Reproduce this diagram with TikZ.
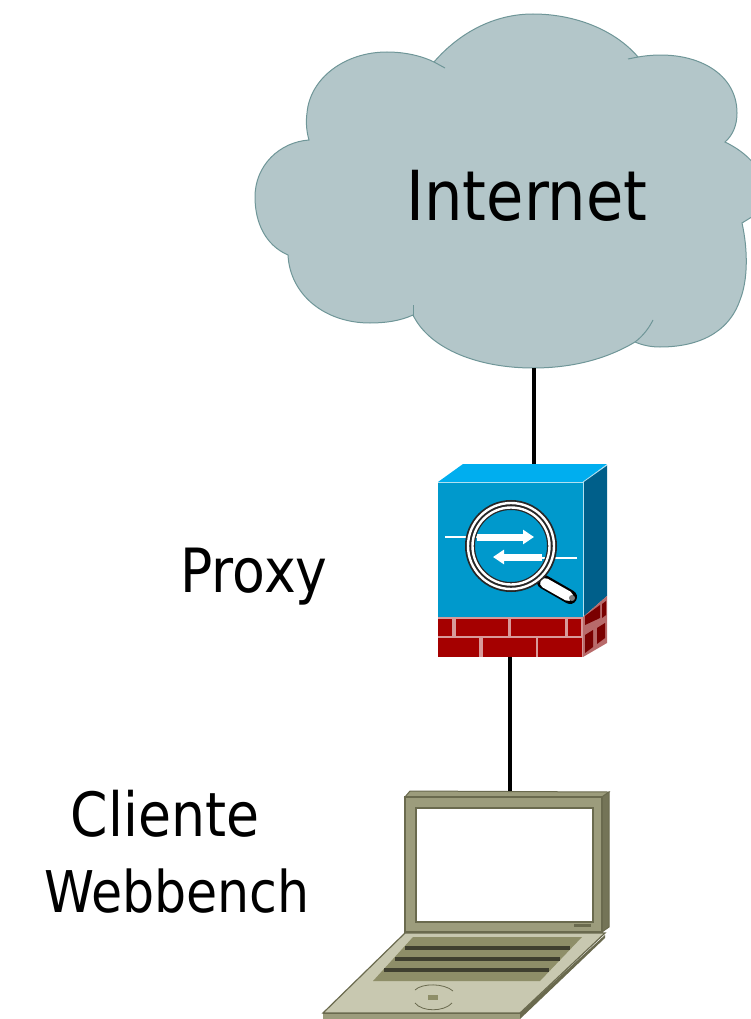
\documentclass[tikz,border=0pt]{standalone}
\usepackage{fontspec}
\setmainfont{DejaVu Sans}[FakeStretch=0.88]
\usetikzlibrary{positioning,arrows.meta}
\definecolor{cloudfill}{HTML}{B3C6C9}
\definecolor{cloudedge}{HTML}{6F9698}
\definecolor{boxfront}{HTML}{0099CC}
\definecolor{boxtop}{HTML}{00AEEF}
\definecolor{boxside}{HTML}{005F8A}
\definecolor{brickred}{HTML}{A50000}
\definecolor{brickdark}{HTML}{7A0000}
\definecolor{mortar}{HTML}{D89A9A}
\definecolor{sidemortar}{HTML}{B86A6A}
\definecolor{lidcol}{HTML}{9C9C7C}
\definecolor{lidedge}{HTML}{6A6A4E}
\definecolor{basecol}{HTML}{C8C8B0}
\definecolor{keycol}{HTML}{8E8E68}
\tikzset{
	wire/.style={black, line width=3.5pt},
	biglabel/.style={anchor=base, font=\fontsize{69}{76}\selectfont},
	sidelabel/.style={anchor=base, font=\fontsize{61}{76}\selectfont},
	widelabel/.style={anchor=base, font=\fontsize{57.5}{76}\selectfont},
	brick/.style={fill=brickred, draw=none},
	flow/.style={white, line width=7pt, -{Triangle[length=11pt,width=14pt]}},
	thinflow/.style={white, line width=1.2pt},
}
\begin{document}
\begin{tikzpicture}[x=1pt,y=-1pt]
		\useasboundingbox (0,0) rectangle (751,1019);
		\clip (0,0) rectangle (751,1019);
		\coordinate (cloudbot) at (534,368);
		\coordinate (proxytop) at (534,464);
		\coordinate (proxybot) at (510,657);
		\coordinate (laptoptop) at (510,792);
		\draw[fill=cloudfill, draw=cloudedge, line width=1pt]
			(434,62) .. controls (460,32) and (495,14) .. (533,14)
			.. controls (575,14) and (615,30) .. (638,57)
			.. controls (690,48) and (737,70) .. (737,113)
			.. controls (737,125) and (733,135) .. (725,142)
			.. controls (735,147) and (745,153) .. (755,165)
			-- (755,215) -- (742,223)
			.. controls (748,250) and (748,280) .. (740,300)
			.. controls (728,335) and (695,347) .. (660,347)
			.. controls (650,347) and (642,345) .. (635,342)
			.. controls (605,360) and (570,368) .. (533,368)
			.. controls (480,368) and (430,350) .. (413,315)
			.. controls (400,321) and (385,323) .. (370,323)
			.. controls (325,323) and (290,295) .. (288,255)
			.. controls (265,245) and (255,222) .. (255,197)
			.. controls (255,165) and (280,142) .. (309,140)
			.. controls (306,130) and (306,120) .. (307,113)
			.. controls (310,78) and (345,52) .. (387,52)
			.. controls (405,52) and (422,56) .. (434,62) -- cycle;
		\draw[draw=cloudedge, line width=1pt] (434,62) -- (445,68);
		\draw[draw=cloudedge, line width=1pt] (638,57) -- (628,59);
		\draw[draw=cloudedge, line width=1pt] (635,342) .. controls (643,336) and (649,328) .. (653,320);
		\draw[draw=cloudedge, line width=1pt] (413,317) -- (413,305);
		\node[biglabel] (internet) at (527,220) {Internet};
		\draw[wire] (cloudbot) -- (proxytop);
		\draw[wire] (proxybot) -- (laptoptop);
		\fill[boxtop] (438,482) -- (463,464) -- (607,464) -- (583,482) -- cycle;
		\fill[boxfront] (438,482) rectangle (583,617);
		\fill[boxside] (583,482) -- (607,465) -- (607,596) -- (583,617) -- cycle;
		\draw[white!70!boxfront, line width=0.8pt] (438,482) -- (583,482) -- (583,617);
		\draw[white!70!boxfront, line width=0.8pt] (583,482) -- (607,465);
		\fill[mortar] (438,617) rectangle (583,657);
		\fill[sidemortar] (583,617) -- (607,596) -- (607,643) -- (583,657) -- cycle;
		\foreach \xa/\xb in {438/452, 456/508, 511/565, 568/581}
			\fill[brick] (\xa,619) rectangle (\xb,636);
		\foreach \xa/\xb in {438/479, 483/536, 538/582}
			\fill[brick] (\xa,638) rectangle (\xb,657);
		\fill[brickdark] (585,616) -- (600,605) -- (600,618) -- (585,625) -- cycle;
		\fill[brickdark] (602,604) -- (606,601) -- (606,615) -- (602,618) -- cycle;
		\fill[brickdark] (585,635) -- (593,630) -- (593,647) -- (585,653) -- cycle;
		\fill[brickdark] (597,628) -- (605,623) -- (605,638) -- (597,644) -- cycle;
		\draw[thinflow] (445,537) -- (480,537);
		\draw[flow] (477,537) -- (534,537);
		\draw[thinflow] (577,558) -- (540,558);
		\draw[flow] (542,557) -- (493,557);
		\draw[black, line cap=round, line width=14pt] (544,582) -- (570,597);
		\draw[white, line cap=round, line width=10pt] (545,583) -- (568,596);
		\fill[gray] (572,598) circle (3);
		\draw[black!85, line width=10pt] (511,546) circle (41);
		\draw[white, line width=2.4pt] (511,546) circle (43);
		\draw[white, line width=2.4pt] (511,546) circle (38.5);
		\draw[fill=lidcol, draw=lidedge, line width=1pt] (405,797) -- (410,791) -- (609,792) -- (602,797) -- cycle;
		\draw[fill=lidedge!80!lidcol, draw=lidedge, line width=1pt] (602,797) -- (609,792) -- (609,927) -- (602,932) -- cycle;
		\draw[fill=lidcol, draw=lidedge, line width=1.5pt] (405,797) rectangle (602,932);
		\draw[fill=white, draw=lidedge, line width=1.5pt] (416,808) rectangle (593,922);
		\fill[lidedge] (574,924) rectangle (591,927);
		\fill[lidedge] (520,1013) -- (605,935) -- (605,938) -- (520,1019) -- cycle;
		\draw[fill=basecol, draw=lidedge, line width=1.2pt] (405,933) -- (605,933) -- (520,1013) -- (323,1013) -- cycle;
		\fill[lidcol] (323,1013) rectangle (520,1019);
		\draw[lidedge, line width=1pt] (323,1013) -- (520,1013);
		\fill[keycol] (413,937) -- (582,937) -- (540,981) -- (373,981) -- cycle;
		\foreach \ya/\xa/\xb in {948/405/570, 959/395/560, 970/384/549}
			\draw[lidedge!60!black, line width=3.5pt] (\xa,\ya) -- (\xb,\ya);
		\draw[lidedge, line width=0.8pt] (415,990) .. controls (422,983) and (444,983) .. (453,991);
		\draw[lidedge, line width=0.8pt] (415,1003) .. controls (422,1012) and (444,1012) .. (452,1003);
		\fill[keycol] (428,995) rectangle (438,1000);
		\node[sidelabel] (proxy) at (254,592) {Proxy};
		\node[sidelabel] (cliente) at (165,836) {Cliente};
		\node[widelabel] (webbench) at (177,912) {Webbench};
\end{tikzpicture}
\end{document}
